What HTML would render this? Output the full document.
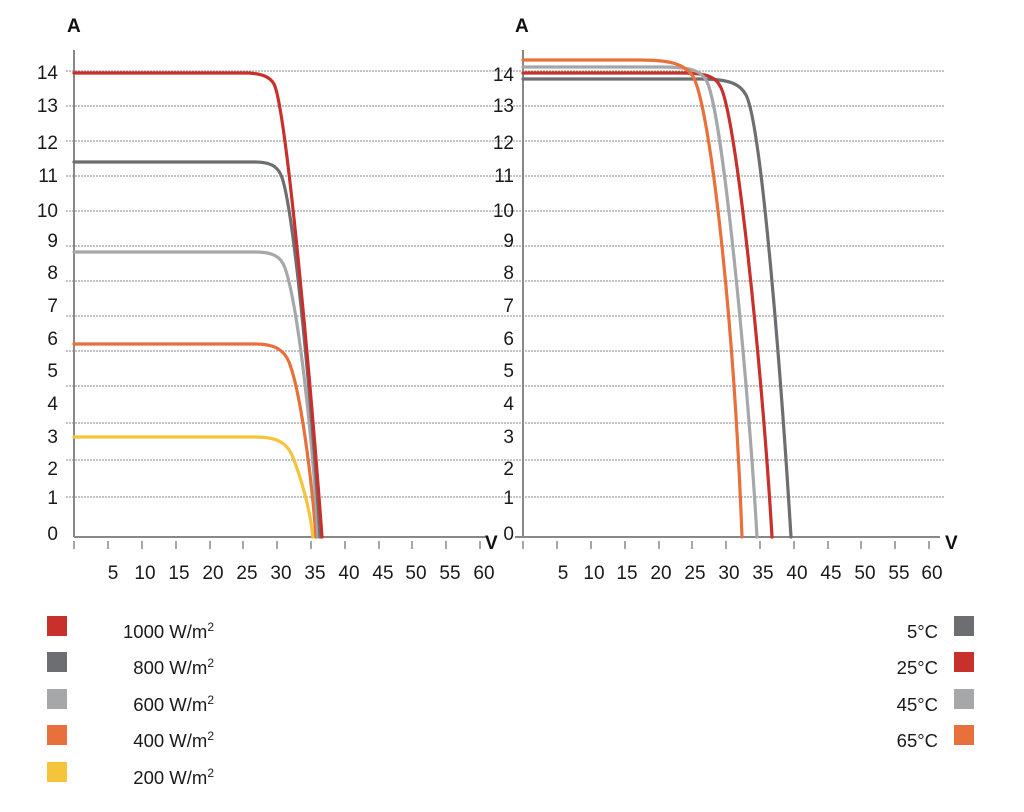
<!DOCTYPE html>
<html><head><meta charset="utf-8"><style>
html,body{margin:0;padding:0;background:#fff;}
svg{display:block;font-family:"Liberation Sans",sans-serif;}
</style></head><body>
<svg width="1024" height="812" viewBox="0 0 1024 812" xmlns="http://www.w3.org/2000/svg">
<g stroke="#888" stroke-width="1" stroke-dasharray="2,1">
<line x1="66" x2="487" y1="71" y2="71"/><line x1="66" x2="487" y1="106" y2="106"/><line x1="66" x2="487" y1="141" y2="141"/><line x1="66" x2="487" y1="176" y2="176"/><line x1="66" x2="487" y1="211" y2="211"/><line x1="66" x2="487" y1="246" y2="246"/><line x1="66" x2="487" y1="281" y2="281"/><line x1="66" x2="487" y1="316" y2="316"/><line x1="66" x2="487" y1="351" y2="351"/><line x1="66" x2="487" y1="386" y2="386"/><line x1="66" x2="487" y1="423" y2="423"/><line x1="66" x2="487" y1="460" y2="460"/><line x1="66" x2="487" y1="497" y2="497"/>
<line x1="480" x2="945" y1="71" y2="71"/><line x1="480" x2="945" y1="106" y2="106"/><line x1="480" x2="945" y1="141" y2="141"/><line x1="480" x2="945" y1="176" y2="176"/><line x1="480" x2="945" y1="211" y2="211"/><line x1="480" x2="945" y1="246" y2="246"/><line x1="480" x2="945" y1="281" y2="281"/><line x1="480" x2="945" y1="316" y2="316"/><line x1="480" x2="945" y1="351" y2="351"/><line x1="480" x2="945" y1="386" y2="386"/><line x1="480" x2="945" y1="423" y2="423"/><line x1="480" x2="945" y1="460" y2="460"/><line x1="480" x2="945" y1="497" y2="497"/>
</g>
<g stroke="#888" stroke-width="2" fill="none">
<line x1="74" y1="50" x2="74" y2="537"/><line x1="74" y1="537" x2="486" y2="537"/>
<line x1="523" y1="50" x2="523" y2="537"/><line x1="515" y1="537" x2="940" y2="537"/>
</g>
<g stroke="#888" stroke-width="1.5">
<line x1="74" x2="74" y1="541" y2="549"/><line x1="108" x2="108" y1="541" y2="549"/><line x1="142" x2="142" y1="541" y2="549"/><line x1="176" x2="176" y1="541" y2="549"/><line x1="210" x2="210" y1="541" y2="549"/><line x1="243" x2="243" y1="541" y2="549"/><line x1="277" x2="277" y1="541" y2="549"/><line x1="311" x2="311" y1="541" y2="549"/><line x1="345" x2="345" y1="541" y2="549"/><line x1="379" x2="379" y1="541" y2="549"/><line x1="412" x2="412" y1="541" y2="549"/><line x1="446" x2="446" y1="541" y2="549"/><line x1="480" x2="480" y1="541" y2="549"/>
<line x1="523" x2="523" y1="541" y2="549"/><line x1="557" x2="557" y1="541" y2="549"/><line x1="591" x2="591" y1="541" y2="549"/><line x1="625" x2="625" y1="541" y2="549"/><line x1="659" x2="659" y1="541" y2="549"/><line x1="692" x2="692" y1="541" y2="549"/><line x1="726" x2="726" y1="541" y2="549"/><line x1="760" x2="760" y1="541" y2="549"/><line x1="794" x2="794" y1="541" y2="549"/><line x1="828" x2="828" y1="541" y2="549"/><line x1="861" x2="861" y1="541" y2="549"/><line x1="895" x2="895" y1="541" y2="549"/><line x1="929" x2="929" y1="541" y2="549"/>
</g>
<g font-size="19" fill="#1a1a1a" text-anchor="end">
<text x="58" y="79">14</text><text x="58" y="112">13</text><text x="58" y="149">12</text><text x="58" y="182">11</text><text x="58" y="217">10</text><text x="58" y="247">9</text><text x="58" y="279">8</text><text x="58" y="312">7</text><text x="58" y="345">6</text><text x="58" y="377">5</text><text x="58" y="410">4</text><text x="58" y="443">3</text><text x="58" y="475">2</text><text x="58" y="504">1</text><text x="58" y="540">0</text>
<text x="514" y="81">14</text><text x="514" y="112">13</text><text x="514" y="149">12</text><text x="514" y="182">11</text><text x="514" y="217">10</text><text x="514" y="247">9</text><text x="514" y="279">8</text><text x="514" y="312">7</text><text x="514" y="345">6</text><text x="514" y="377">5</text><text x="514" y="410">4</text><text x="514" y="443">3</text><text x="514" y="475">2</text><text x="514" y="504">1</text><text x="514" y="540">0</text>
</g>
<g font-size="19" fill="#1a1a1a" text-anchor="middle">
<text x="113" y="579">5</text><text x="145" y="579">10</text><text x="179" y="579">15</text><text x="213" y="579">20</text><text x="247" y="579">25</text><text x="281" y="579">30</text><text x="315" y="579">35</text><text x="349" y="579">40</text><text x="383" y="579">45</text><text x="416" y="579">50</text><text x="450" y="579">55</text><text x="484" y="579">60</text>
<text x="563" y="579">5</text><text x="594" y="579">10</text><text x="627" y="579">15</text><text x="661" y="579">20</text><text x="695" y="579">25</text><text x="729" y="579">30</text><text x="763" y="579">35</text><text x="797" y="579">40</text><text x="831" y="579">45</text><text x="865" y="579">50</text><text x="899" y="579">55</text><text x="932" y="579">60</text>
</g>
<g font-size="19" font-weight="bold" fill="#111">
<text x="67" y="32">A</text><text x="515" y="32">A</text>
<text x="485" y="549">V</text><text x="945" y="549">V</text>
</g>
<g fill="none" stroke-width="3.2" stroke-linecap="round" stroke-linejoin="round">
<path stroke="#f5c43c" d="M74,437 L255,437 C276,437 286,442 292,455 C302,480 310,510 313,537"/>
<path stroke="#e8703a" d="M74,344 L255,344 C275,344 284,350 289,362 C300,390 311,470 316,537"/>
<path stroke="#a6a7a9" d="M74,252 L255,252 C272,252 281,256 285,268 C298,305 313,440 318,537"/>
<path stroke="#6d6e71" d="M74,162 L255,162 C270,162 277,166 281,175 C294,205 313,420 320,537"/>
<path stroke="#c8302c" d="M74,73 L245,73 C262,73 270,77 274,84 C287,110 312,400 322,537"/>
<path stroke="#6d6e71" d="M523,79 L700,79 C730,79 740,84 746,95 C762,125 782,390 791,537"/>
<path stroke="#c8302c" d="M523,73 L680,73 C705,73 715,76 720,86 C736,110 763,380 772,537"/>
<path stroke="#a6a7a9" d="M523,67 L660,67 C690,67 700,70 706,80 C722,105 748,380 757,537"/>
<path stroke="#e8703a" d="M523,60 L640,60 C670,60 684,64 692,75 C708,95 733,300 742,537"/>
</g>
<rect x="47" y="616" width="20" height="20" fill="#c8302c"/>
<rect x="47" y="652" width="20" height="20" fill="#6d6e71"/>
<rect x="47" y="689" width="20" height="20" fill="#a6a7a9"/>
<rect x="47" y="725" width="20" height="20" fill="#e8703a"/>
<rect x="47" y="762" width="20" height="20" fill="#f5c43c"/>
<g font-size="18.5" fill="#1a1a1a" text-anchor="end">
<text x="214" y="638">1000 W/m<tspan font-size="12" dy="-7">2</tspan></text>
<text x="214" y="674">800 W/m<tspan font-size="12" dy="-7">2</tspan></text>
<text x="214" y="711">600 W/m<tspan font-size="12" dy="-7">2</tspan></text>
<text x="214" y="747">400 W/m<tspan font-size="12" dy="-7">2</tspan></text>
<text x="214" y="784">200 W/m<tspan font-size="12" dy="-7">2</tspan></text>
<text x="938" y="638">5°C</text>
<text x="938" y="674">25°C</text>
<text x="938" y="711">45°C</text>
<text x="938" y="747">65°C</text>
</g>
<rect x="954" y="616" width="20" height="20" fill="#6d6e71"/>
<rect x="954" y="652" width="20" height="20" fill="#c8302c"/>
<rect x="954" y="689" width="20" height="20" fill="#a6a7a9"/>
<rect x="954" y="725" width="20" height="20" fill="#e8703a"/>
</svg>
</body></html>
